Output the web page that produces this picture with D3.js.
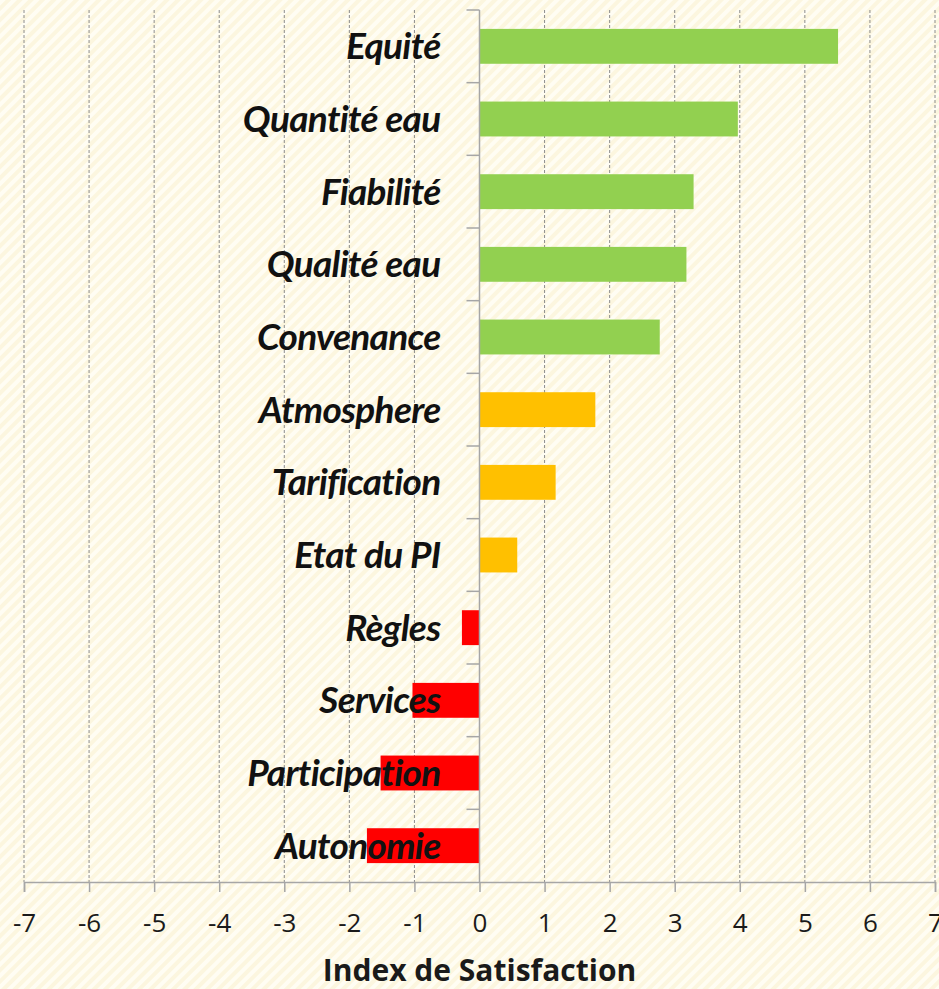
<!DOCTYPE html>
<html>
<head>
<meta charset="utf-8">
<script src="https://cdn.jsdelivr.net/npm/d3@7"></script>
<style>
  html, body { margin: 0; padding: 0; background: #fdf9e6; }
  svg { display: block; }
</style>
</head>
<body>
<div id="chart"></div>
<script>
// data
const categories = ["Equité", "Quantité eau", "Fiabilité", "Qualité eau", "Convenance",
  "Atmosphere", "Tarification", "Etat du PI", "Règles", "Services", "Participation", "Autonomie"];
const values = [5.51, 3.97, 3.29, 3.18, 2.77, 1.78, 1.17, 0.58, -0.27, -1.03, -1.52, -1.73];
const barColors = ["#92d050", "#92d050", "#92d050", "#92d050", "#92d050",
  "#ffc000", "#ffc000", "#ffc000", "#ff0000", "#ff0000", "#ff0000", "#ff0000"];
const xTicks = [-7, -6, -5, -4, -3, -2, -1, 0, 1, 2, 3, 4, 5, 6, 7];

const W = 939, H = 989;
const margin = { top: 10, right: 4, bottom: 107, left: 24 };

const svg = d3.select("#chart").append("svg")
  .attr("width", W)
  .attr("height", H);

// striped background
const defs = svg.append("defs");
const pat = defs.append("pattern")
  .attr("id", "stripes")
  .attr("width", 8)
  .attr("height", 8)
  .attr("patternUnits", "userSpaceOnUse")
  .attr("patternTransform", "rotate(45)");
pat.append("rect").attr("width", 8).attr("height", 8).attr("fill", "#fcf6df");
pat.append("rect").attr("width", 4).attr("height", 8).attr("fill", "#fffdf3");

svg.append("rect")
  .attr("width", W)
  .attr("height", H)
  .attr("fill", "url(#stripes)");

// scales
const x = d3.scaleLinear()
  .domain([-7, 7])
  .range([margin.left, W - margin.right]);

const y = d3.scaleBand()
  .domain(categories)
  .range([margin.top, H - margin.bottom])
  .paddingInner(0.52)
  .paddingOuter(0.26);

const yBottom = H - margin.bottom;

// gridlines
svg.append("g")
  .selectAll("line")
  .data(xTicks.filter(d => d !== 0))
  .join("line")
  .attr("x1", d => x(d))
  .attr("x2", d => x(d))
  .attr("y1", margin.top)
  .attr("y2", yBottom)
  .attr("stroke", "#8c8c8c")
  .attr("stroke-width", 1)
  .attr("stroke-dasharray", "3,2");

// bars
svg.append("g")
  .selectAll("rect")
  .data(categories)
  .join("rect")
  .attr("x", (d, i) => x(Math.min(0, values[i])))
  .attr("y", d => y(d))
  .attr("width", (d, i) => Math.abs(x(values[i]) - x(0)))
  .attr("height", y.bandwidth())
  .attr("fill", (d, i) => barColors[i]);

// x axis
const xAxis = svg.append("g")
  .attr("transform", `translate(0,${yBottom})`)
  .call(d3.axisBottom(x).tickValues(xTicks).tickSize(10).tickPadding(22).tickFormat(d3.format("d")));
xAxis.select(".domain").attr("stroke", "#a6a6a6").attr("stroke-width", 1.5);
xAxis.selectAll(".tick line").attr("stroke", "#a6a6a6").attr("stroke-width", 1.5);
xAxis.selectAll(".tick text")
  .attr("fill", "#1a1a1a")
  .style("font-family", "'Open Sans', sans-serif")
  .style("font-size", "26px")
  .text(d => d < 0 ? "-" + Math.abs(d) : d);

// y axis at zero: line + category boundary ticks
const bounds = d3.range(categories.length + 1)
  .map(i => margin.top + i * (yBottom - margin.top) / categories.length);
svg.append("line")
  .attr("x1", x(0)).attr("x2", x(0))
  .attr("y1", margin.top).attr("y2", yBottom)
  .attr("stroke", "#a6a6a6").attr("stroke-width", 1.5);
svg.append("g")
  .selectAll("line")
  .data(bounds.slice(0, -1))
  .join("line")
  .attr("x1", x(0) - 13).attr("x2", x(0))
  .attr("y1", d => d).attr("y2", d => d)
  .attr("stroke", "#a6a6a6").attr("stroke-width", 1.5);

// category labels (drawn over bars)
svg.append("g")
  .selectAll("text")
  .data(categories)
  .join("text")
  .attr("x", x(0) - 39)
  .attr("y", d => y(d) + y.bandwidth() / 2)
  .attr("dy", "0.35em")
  .attr("text-anchor", "end")
  .style("font-family", "Lato, sans-serif")
  .style("font-style", "italic")
  .style("font-weight", "700")
  .style("font-size", "37px")
  .style("letter-spacing", "-0.7px")
  .attr("fill", "#111")
  .text(d => d);

// axis title
svg.append("text")
  .attr("x", x(0))
  .attr("y", 981)
  .attr("text-anchor", "middle")
  .style("font-family", "'Open Sans', sans-serif")
  .style("font-weight", "700")
  .style("font-size", "30px")
  .attr("fill", "#1a1a1a")
  .text("Index de Satisfaction");
</script>
</body>
</html>
